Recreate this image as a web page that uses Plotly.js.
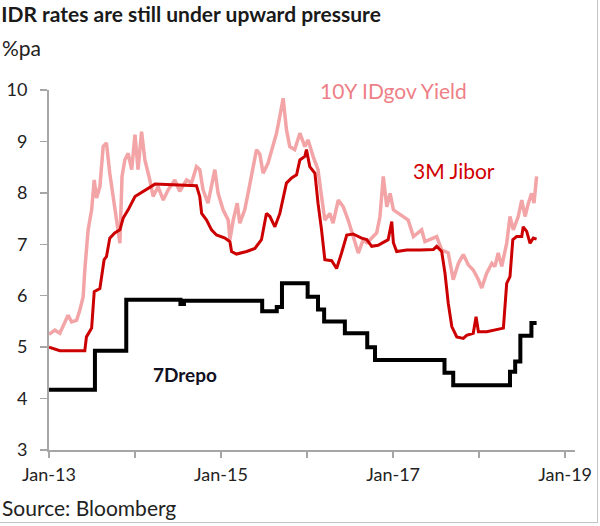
<!DOCTYPE html>
<html>
<head>
<meta charset="utf-8">
<script src="https://cdn.plot.ly/plotly-3.0.1.min.js"></script>
<style>
  html, body { margin: 0; padding: 0; background: #fff; }
  #wrap { position: relative; width: 600px; height: 526px; }
  #chart { width: 600px; height: 526px; }
  #frame { position: absolute; left: 0; top: 0; width: 597px; height: 522px;
           border-right: 1px solid #c4c4c4; border-bottom: 1px solid #c4c4c4; pointer-events: none; }
</style>
</head>
<body>
<div id="wrap"><div id="chart"></div><div id="frame"></div></div>
<script>
// ---- Data (dates as decimal years, values in %pa) ----
const yieldDates = [2013.000,2013.070,2013.128,2013.186,2013.224,2013.264,2013.322,2013.360,2013.399,2013.419,
  2013.457,2013.497,2013.527,2013.555,2013.593,2013.631,2013.671,2013.709,2013.748,2013.787,
  2013.826,2013.852,2013.884,2013.922,2013.962,2014.000,2014.038,2014.078,2014.116,2014.174,
  2014.213,2014.271,2014.329,2014.387,2014.465,2014.523,2014.601,2014.659,2014.717,2014.756,
  2014.794,2014.852,2014.930,2014.969,2015.027,2015.085,2015.105,2015.143,2015.190,2015.221,
  2015.279,2015.317,2015.357,2015.415,2015.453,2015.492,2015.550,2015.608,2015.648,2015.686,
  2015.724,2015.764,2015.802,2015.860,2015.919,2015.977,2016.015,2016.073,2016.131,2016.171,
  2016.209,2016.267,2016.306,2016.364,2016.422,2016.480,2016.538,2016.597,2016.655,2016.694,
  2016.733,2016.810,2016.849,2016.887,2016.927,2016.965,2017.003,2017.062,2017.120,2017.178,
  2017.236,2017.294,2017.334,2017.372,2017.430,2017.508,2017.566,2017.643,2017.701,2017.759,
  2017.817,2017.876,2017.934,2017.992,2018.031,2018.090,2018.148,2018.186,2018.224,2018.264,
  2018.322,2018.360,2018.399,2018.457,2018.497,2018.535,2018.573,2018.613,2018.640,2018.671];
const yieldValues = [5.25,5.33,5.27,5.46,5.62,5.49,5.52,5.72,5.98,6.50,
  7.28,7.67,8.25,7.90,8.12,8.90,8.97,8.38,7.93,7.47,
  7.02,8.32,8.64,8.77,8.45,9.13,8.45,9.19,8.64,8.25,
  7.93,8.12,7.86,8.06,8.25,8.03,8.25,8.19,8.51,8.45,
  8.06,7.80,8.45,7.99,7.67,7.47,7.09,7.47,7.80,7.41,
  7.67,7.99,8.38,8.84,8.75,8.38,8.58,8.90,9.16,9.49,
  9.84,9.23,8.90,8.84,9.16,8.90,9.03,8.71,8.45,7.93,
  7.47,7.60,7.41,7.86,7.73,7.47,7.15,6.83,7.09,7.03,
  7.09,7.22,7.54,8.32,7.73,7.99,7.67,7.60,7.54,7.47,
  7.15,7.22,7.28,7.05,7.09,7.15,6.89,6.83,6.31,6.63,
  6.80,6.60,6.50,6.31,6.15,6.44,6.63,6.57,6.83,6.57,
  7.02,7.54,7.28,7.54,7.86,7.54,7.80,7.99,7.80,8.32];

const jiborDates = [2013.000,2013.070,2013.128,2013.419,2013.438,2013.497,2013.527,2013.593,2013.643,2013.671,
  2013.709,2013.767,2013.826,2013.864,2013.922,2014.000,2014.097,2014.194,2014.233,2014.717,
  2014.756,2014.776,2014.834,2014.892,2014.950,2015.047,2015.105,2015.124,2015.183,2015.299,
  2015.395,2015.473,2015.531,2015.570,2015.628,2015.686,2015.724,2015.764,2015.822,2015.880,
  2015.919,2015.977,2015.997,2016.035,2016.093,2016.131,2016.171,2016.209,2016.287,2016.345,
  2016.403,2016.462,2016.538,2016.636,2016.694,2016.752,2016.826,2016.887,2016.945,2016.985,
  2017.003,2017.043,2017.159,2017.314,2017.469,2017.508,2017.566,2017.605,2017.643,2017.683,
  2017.741,2017.817,2017.857,2017.934,2017.965,2017.992,2018.090,2018.283,2018.322,2018.360,
  2018.392,2018.438,2018.497,2018.515,2018.555,2018.593,2018.631,2018.671];
const jiborValues = [5.00,4.96,4.93,4.93,5.20,5.37,6.08,6.14,6.70,6.76,
  7.12,7.22,7.28,7.51,7.67,7.93,8.03,8.12,8.17,8.14,
  7.93,7.60,7.47,7.28,7.18,7.12,7.05,6.86,6.81,6.86,
  6.92,7.09,7.60,7.54,7.34,7.60,7.93,8.19,8.29,8.35,
  8.64,8.71,8.84,8.51,8.38,7.80,7.28,6.70,6.68,6.53,
  6.83,7.18,7.20,7.12,7.09,6.96,6.98,7.03,7.09,7.44,
  7.03,6.86,6.89,6.89,6.90,6.96,6.86,6.44,5.85,5.40,
  5.20,5.17,5.23,5.27,5.59,5.30,5.30,5.37,6.24,6.37,
  7.09,7.15,7.15,7.34,7.25,7.02,7.12,7.10];

const repoDates = [2013.000,2013.535,2013.900,2014.530,2014.570,2015.480,2015.650,2015.710,2016.010,2016.130,
  2016.200,2016.440,2016.700,2016.790,2017.600,2017.700,2018.360,2018.420,2018.480,2018.610,2018.670];
const repoValues = [4.17,4.93,5.92,5.84,5.90,5.70,5.78,6.24,5.98,5.73,
  5.50,5.27,5.00,4.75,4.50,4.26,4.52,4.72,5.22,5.47,5.47];

const xTickYears = [2013,2014,2015,2016,2017,2018,2019];
const xTickLabels = ['Jan-13','','Jan-15','','Jan-17','','Jan-19'];
const yTickValues = [3,4,5,6,7,8,9,10];

// ---- helpers ----
function toDate(d) {
  const y = Math.floor(d);
  const start = Date.UTC(y, 0, 1), end = Date.UTC(y + 1, 0, 1);
  return new Date(start + (d - y) * (end - start)).toISOString().slice(0, 10);
}
const FONT = 'Lato, "Open Sans", sans-serif';

const traces = [
  { x: yieldDates.map(toDate), y: yieldValues, type: 'scatter', mode: 'lines',
    name: '10Y IDgov Yield', line: { color: '#f3a4a6', width: 3.5 } },
  { x: jiborDates.map(toDate), y: jiborValues, type: 'scatter', mode: 'lines',
    name: '3M Jibor', line: { color: '#cc0000', width: 3 } },
  { x: repoDates.map(toDate), y: repoValues, type: 'scatter', mode: 'lines',
    name: '7Drepo', line: { color: '#000000', width: 4, shape: 'hv' } }
];

const layout = {
  width: 600, height: 526,
  margin: { l: 49, r: 25, t: 90, b: 76 },
  paper_bgcolor: '#ffffff', plot_bgcolor: '#ffffff',
  showlegend: false,
  font: { family: FONT, color: '#222222', size: 15 },
  title: { text: '<b>IDR rates are still under upward pressure</b>',
           x: 0.002, xanchor: 'left', xref: 'container',
           y: 0.972, yanchor: 'middle', yref: 'container',
           font: { family: FONT, size: 21, color: '#1a1a1a' } },
  xaxis: {
    type: 'date',
    range: ['2013-01-01', '2019-02-12'],
    tickmode: 'array',
    tickvals: xTickYears.map(y => y + '-01-01'),
    ticktext: xTickLabels,
    ticks: 'outside', ticklen: 6, tickcolor: '#a6a6a6', tickwidth: 1.5,
    showline: true, linecolor: '#a6a6a6', linewidth: 2,
    showgrid: false, zeroline: false,
    tickfont: { family: FONT, size: 18, color: '#222222' },
    ticklabelstandoff: 1
  },
  yaxis: {
    range: [3, 10],
    tickmode: 'array',
    tickvals: yTickValues,
    ticks: 'outside', ticklen: 7, tickcolor: '#a6a6a6', tickwidth: 1.5,
    showline: true, linecolor: '#a6a6a6', linewidth: 2,
    showgrid: false, zeroline: false,
    tickfont: { family: FONT, size: 18, color: '#222222' },
    ticklabelstandoff: 9
  },
  annotations: [
    { text: '%pa', xref: 'paper', yref: 'paper', x: -0.093, y: 1.119,
      xanchor: 'left', yanchor: 'middle', showarrow: false,
      font: { family: FONT, size: 21, color: '#222222' } },
    { text: 'Source: Bloomberg', xref: 'paper', yref: 'paper', x: -0.093, y: -0.161,
      xanchor: 'left', yanchor: 'middle', showarrow: false,
      font: { family: FONT, size: 21, color: '#222222' } },
    { text: '10Y IDgov Yield', xref: 'x', yref: 'y', x: toDate(2017.01), y: 10.0,
      xanchor: 'center', yanchor: 'middle', showarrow: false,
      font: { family: FONT, size: 21, color: '#ee7f87' } },
    { text: '3M Jibor', xref: 'x', yref: 'y', x: toDate(2017.71), y: 8.44,
      xanchor: 'center', yanchor: 'middle', showarrow: false,
      font: { family: FONT, size: 21, color: '#d00000' } },
    { text: '<b>7Drepo</b>', xref: 'x', yref: 'y', x: toDate(2014.58), y: 4.46,
      xanchor: 'center', yanchor: 'middle', showarrow: false,
      font: { family: FONT, size: 19, color: '#111122' } }
  ]
};

Plotly.newPlot('chart', traces, layout, { displayModeBar: false, staticPlot: true });
</script>
</body>
</html>
